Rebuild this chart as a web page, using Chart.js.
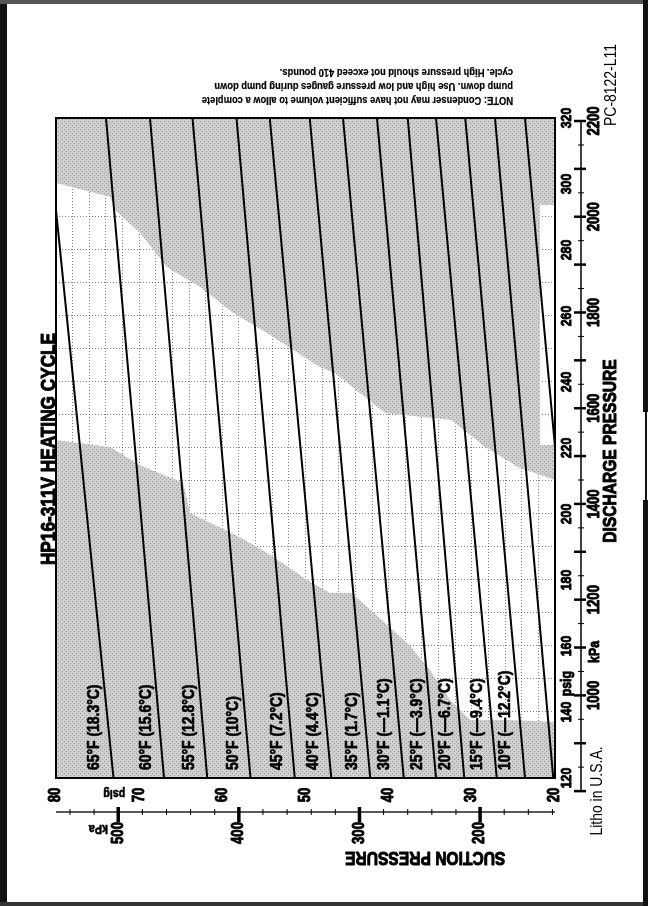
<!DOCTYPE html>
<html>
<head>
<meta charset="utf-8">
<script src="https://cdn.jsdelivr.net/npm/chart.js@4.4.1/dist/chart.umd.min.js"></script>
<style>
  html, body { margin:0; padding:0; background:#fff; }
  body { width:648px; height:906px; position:relative; overflow:hidden; }
  #rot { position:absolute; left:0; top:0; width:906px; height:648px;
         transform-origin:0 0; transform:translate(0,906px) rotate(-90deg); }
</style>
</head>
<body>
<div id="rot"><canvas id="c" width="906" height="648"></canvas></div>
<script>
// outdoor temperature lines: suction (psig) vs discharge (psig)
const tempLabels = ['65°F (18.3°C)','60°F (15.6°C)','55°F (12.8°C)','50°F (10°C)','45°F (7.2°C)','40°F (4.4°C)',
  '35°F (1.7°C)','30°F (—1.1°C)','25°F (—3.9°C)','20°F (—6.7°C)','15°F (—9.4°C)','10°F (—12.2°C)','',''];
const lowDischarge  = [120,120,120,120,120,120,120,120,120,120,120,120,120,220.3];
const lowSuction    = [73.1,67.0,61.8,56.6,51.3,46.9,42.2,38.2,34.3,30.9,27.0,23.6,20.2,20];
const highDischarge = [292.1,320,320,320,320,320,320,320,320,320,320,320,320,320];
const highSuction   = [80,74.0,68.7,63.6,58.3,54.3,49.5,45.5,41.4,37.7,34.3,30.8,27.2,23.6];

// shaded areas (outline points)
const upperShadeDischarge = [320,300.3,296.1,292.1,285.2,274.8,268.8,260.9,254.8,244.5,242.7,230.6,228.5,220.3,214.2,210.3,220.9,220.9,293.6,293.6,320];
const upperShadeSuction   = [80,80,73.5,72.9,69.9,66.65,62.7,58.7,54.6,48.3,46.45,40.45,32.5,28.4,24.45,20,20,21.8,21.8,20,20];
const lowerShadeDischarge = [120,222.4,220.3,214.8,209.4,200.3,193.0,188.2,180.0,176.1,176.1,167.0,159.7,153.6,143.6,137.6,137.6,137.0,120];
const lowerShadeSuction   = [80,80,73.5,69.9,64.7,63.9,57.9,54.6,49.8,47.1,44.5,40.4,37.3,35.3,32.6,30.2,26.0,20,20];

// axis labels
const dischargePsigLabels = [120,140,160,180,200,220,240,260,280,300,320];
const dischargeKpaLabels  = [1000,1200,1400,1600,1800,2000,2200];
const suctionPsigLabels   = [80,70,60,50,40,30,20];
const suctionKpaLabels    = [500,400,300,200];
const noteLines = ['NOTE: Condenser may not have sufficient volume to allow a complete',
  'pump down. Use high and low pressure gauges during pump down',
  'cycle. High pressure should not exceed 410 pounds.'];

const KPA = 6.894757;
const FONT = "'Liberation Sans', Arial, sans-serif";
const SQ = 0.82; // condensed look

function shadePattern(){
  const c = document.createElement('canvas'); c.width = 4; c.height = 4;
  const g = c.getContext('2d');
  g.fillStyle = '#cfcfcf'; g.fillRect(0,0,4,4);
  g.fillStyle = '#979797'; g.fillRect(0,0,1,1); g.fillRect(2,2,1,1);
  return g.createPattern(c, 'repeat');
}
const shade = shadePattern();

function sAt(i, d){
  return lowSuction[i] + (highSuction[i]-lowSuction[i])*(d-lowDischarge[i])/(highDischarge[i]-lowDischarge[i]);
}

const datasets = [];
tempLabels.forEach((t,i)=>{
  datasets.push({ label: t || ('line'+i), order:1,
    data:[{x:lowDischarge[i], y:lowSuction[i]}, {x:highDischarge[i], y:highSuction[i]}],
    showLine:true, borderColor:'#000', borderWidth:2, pointRadius:0, fill:false });
});
datasets.push({ label:'upper shade', order:2, showLine:true, pointRadius:0, borderWidth:0, borderColor:'rgba(0,0,0,0)',
  data: upperShadeDischarge.map((d,i)=>({x:d, y:upperShadeSuction[i]})), fill:'shape', backgroundColor: shade });
datasets.push({ label:'lower shade', order:2, showLine:true, pointRadius:0, borderWidth:0, borderColor:'rgba(0,0,0,0)',
  data: lowerShadeDischarge.map((d,i)=>({x:d, y:lowerShadeSuction[i]})), fill:'shape', backgroundColor: shade });

// text helper: sx squeezes along the reading direction, heavy adds a thin outline
function txt(ctx, t, x, y, font, align, angle, sx, heavy){
  ctx.save(); ctx.translate(x,y); if(angle) ctx.rotate(angle); ctx.scale(sx || SQ, 1);
  ctx.font = font; ctx.textAlign = align || 'center'; ctx.textBaseline = 'middle';
  ctx.fillStyle = '#000'; ctx.fillText(t, 0, 0);
  if(heavy){ ctx.strokeStyle = '#000'; ctx.lineWidth = heavy; ctx.lineJoin = 'round'; ctx.strokeText(t, 0, 0); }
  ctx.restore();
}
function seg(ctx, x1,y1,x2,y2, w){
  ctx.beginPath(); ctx.lineWidth = w; ctx.moveTo(x1,y1); ctx.lineTo(x2,y2); ctx.stroke();
}

const decor = {
  id:'decor',
  afterDraw(chart){
    const {ctx, chartArea:a, scales:{x, y}, width:W, height:H} = chart;
    ctx.save();
    // page frame (canvas is turned a quarter, so page left = canvas top, page top = canvas right)
    ctx.fillStyle = '#111'; ctx.fillRect(0, 0, W, 7);
    ctx.fillStyle = '#555'; ctx.fillRect(W-4, 0, 4, H);
    ctx.fillStyle = '#333'; ctx.fillRect(0, 0, 4, H);
    ctx.fillStyle = '#111'; ctx.fillRect(0, H-5, 406, 5); ctx.fillRect(494, H-5, W-494, 5);
    ctx.fillRect(406, H-3, 88, 2);

    ctx.strokeStyle = '#000'; ctx.lineCap = 'butt';
    ctx.lineWidth = 2; ctx.strokeRect(a.left, a.top, a.right-a.left, a.bottom-a.top);

    // temperature labels, sitting just above their line
    const lf = 'bold 17px '+FONT;
    tempLabels.forEach((t,i)=>{
      if(!t) return;
      const x0 = x.getPixelForValue(122.4);
      ctx.font = lf;
      const w = ctx.measureText(t).width*SQ;
      const dEnd = x.getValueForPixel(x0 + w);
      const yb = y.getPixelForValue(sAt(i, dEnd)) - 10;
      txt(ctx, t, x0, yb, lf, 'left', 0, SQ, 0.7);
    });

    // suction axis (kPa ticks)
    const ax = a.left - 34;
    ctx.strokeStyle = '#000';
    seg(ctx, ax, y.getPixelForValue(80), ax, y.getPixelForValue(20), 1.3);
    for(let k=140; k<=540; k+=20){
      const yy = y.getPixelForValue(k/KPA);
      if(k%100===0) seg(ctx, ax-10, yy, ax+5, yy, 3.5); else seg(ctx, ax-3, yy, ax+3, yy, 1);
    }
    suctionPsigLabels.forEach(v=> txt(ctx, String(v), a.left-17, y.getPixelForValue(v), 'bold 16px '+FONT, 'center', 0, SQ, 0.9));
    suctionKpaLabels.forEach(v=> txt(ctx, String(v), a.left-55, y.getPixelForValue(v/KPA), 'bold 16px '+FONT, 'center', 0, SQ, 0.9));
    txt(ctx, 'psig', a.left-16, y.getPixelForValue(73.0), 'bold 13px '+FONT, 'center', -Math.PI/2, SQ, 0.6);
    txt(ctx, 'kPa', a.left-51, y.getPixelForValue(74.9), 'bold 13px '+FONT, 'center', -Math.PI/2, SQ, 0.6);
    txt(ctx, 'SUCTION PRESSURE', a.left-79, y.getPixelForValue(35.6), 'bold 19px '+FONT, 'center', -Math.PI/2, SQ, 1);

    // discharge axis (kPa ticks)
    const ay = a.bottom + 26;
    seg(ctx, x.getPixelForValue(800/KPA), ay, x.getPixelForValue(2200/KPA), ay, 1.5);
    for(let k=800; k<=2200; k+=50){
      const xx = x.getPixelForValue(k/KPA);
      if(k%100===0) seg(ctx, xx, ay-7, xx, ay+5, 2.5); else seg(ctx, xx, ay-3, xx, ay+3, 1);
    }
    dischargePsigLabels.forEach(v=> txt(ctx, String(v), x.getPixelForValue(v), a.bottom+12, 'bold 15px '+FONT, 'center', 0, SQ, 0.9));
    dischargeKpaLabels.forEach(v=> txt(ctx, String(v), x.getPixelForValue(v/KPA), a.bottom+40, 'bold 16px '+FONT, 'center', 0, SQ, 0.9));
    txt(ctx, 'psig', x.getPixelForValue(148.6), a.bottom+12, 'bold 15px '+FONT, 'center', 0, SQ, 0.9);
    txt(ctx, 'kPa', x.getPixelForValue(158.2), a.bottom+40, 'bold 15px '+FONT, 'center', 0, SQ, 0.9);
    txt(ctx, 'DISCHARGE PRESSURE', 455, a.bottom+56, 'bold 19px '+FONT, 'center', 0, SQ, 1);

    // title and small print
    txt(ctx, 'HP16-311V HEATING CYCLE', 457, 49, 'bold 21px '+FONT, 'center', 0, SQ, 1);
    txt(ctx, 'PC-8122-L11', 821, 611, '17px '+FONT);
    txt(ctx, 'Litho in U.S.A.', 115, 597, '17px '+FONT);
    noteLines.forEach((t,i)=> txt(ctx, t, a.right+18+i*14, 513, 'bold 11px '+FONT, 'left', -Math.PI/2, 0.85, 0.2));
    ctx.restore();
  }
};

new Chart(document.getElementById('c'), {
  type:'scatter',
  data:{ datasets },
  options:{
    responsive:false, animation:false,
    layout:{ padding:{ left:128, right:118, top:56, bottom:93 } },
    plugins:{ legend:{display:false}, tooltip:{enabled:false} },
    scales:{
      x:{ type:'linear', min:120, max:320, z:1,
          ticks:{ display:false, stepSize:10 },
          grid:{ color:'rgba(60,60,60,0.65)', lineWidth:1, drawTicks:false },
          border:{ display:false, dash:[1,2] } },
      y:{ type:'linear', min:20, max:80, z:1,
          ticks:{ display:false, stepSize:2 },
          grid:{ color:'rgba(60,60,60,0.65)', lineWidth:1, drawTicks:false },
          border:{ display:false, dash:[1,2] } }
    }
  },
  plugins:[decor]
});
</script>
</body>
</html>
